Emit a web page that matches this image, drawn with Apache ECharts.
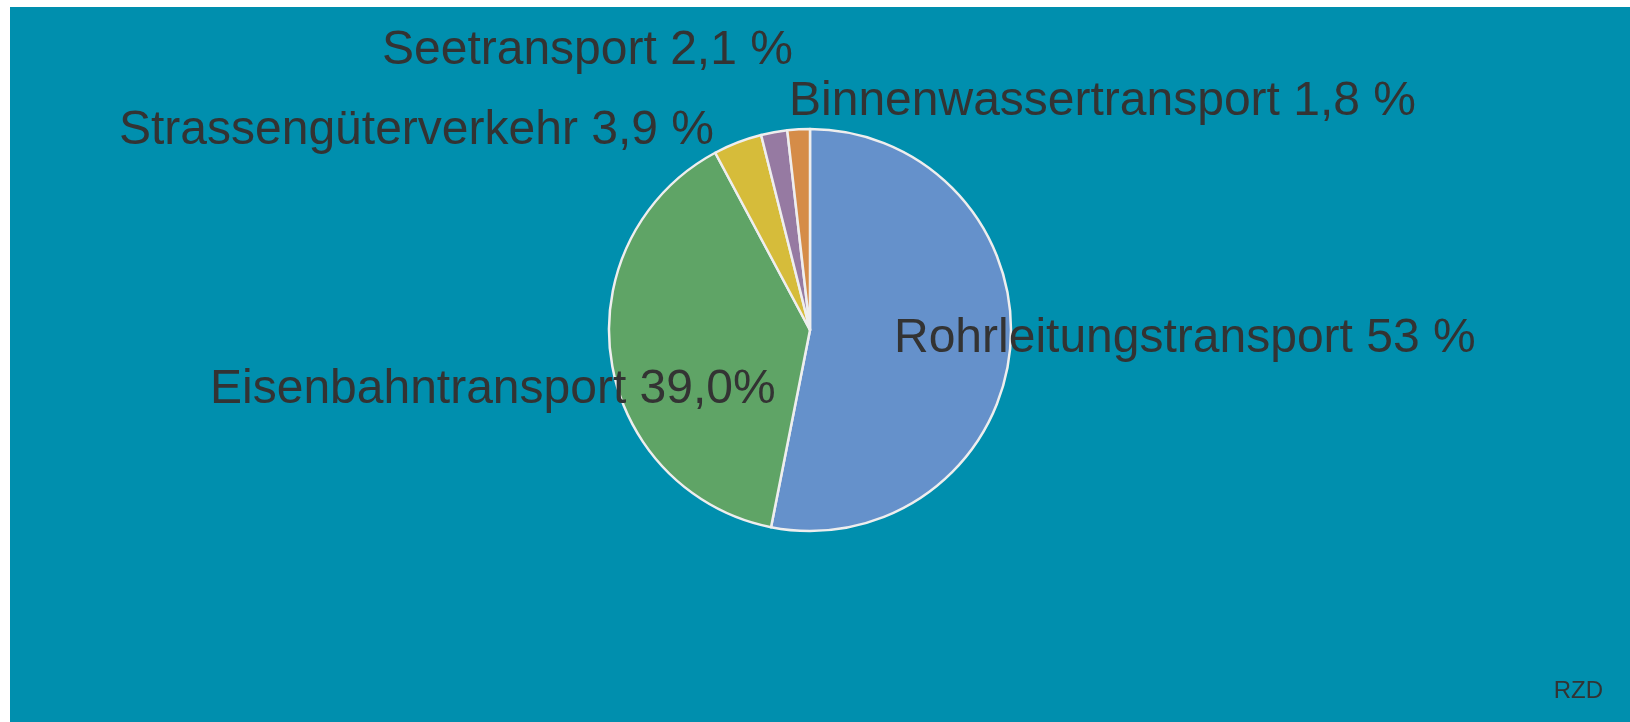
<!DOCTYPE html>
<html>
<head>
<meta charset="utf-8">
<script src="https://cdn.jsdelivr.net/npm/echarts@6/dist/echarts.min.js"></script>
<style>
html,body{margin:0;padding:0;background:#fff;}
#main{position:absolute;left:10px;top:7px;width:1620px;height:715px;}
</style>
</head>
<body>
<div id="main"></div>
<script>
// daten
var categories=['Rohrleitungstransport','Eisenbahntransport','Strassengüterverkehr','Seetransport','Binnenwassertransport']
var values=[53,39.0,3.9,2.1,1.8]
var valueText=['53 %','39,0%','3,9 %','2,1 %','1,8 %']
var colors=['#6591cb','#5fa466','#d6bc3a','#967aa2','#d58c48']
var source='RZD'

// label lage (links, mitte)
var labelPos=[[884,332],[200,383],[109,124],[372,44],[779,95]]

var myChart=echarts.init(document.getElementById('main'))
var pieData=[]
for(var i=0;i<categories.length;i++){
    pieData.push({name:categories[i],value:values[i],itemStyle:{color:colors[i]}})
}
option={
    backgroundColor:'#008fae',
    animation:false,
    graphic:[{
        type:'text',
        right:27,
        top:672,
        style:{text:source,fill:'#333',font:'24px "Liberation Sans", Arial, sans-serif'}
    }],
    series:[{
        type:'pie',
        center:[800,323],
        radius:201,
        startAngle:90,
        clockwise:true,
        avoidLabelOverlap:false,
        emphasis:{disabled:true},
        itemStyle:{borderColor:'#eeeeee',borderWidth:2.5},
        label:{
            show:true,
            position:'outside',
            color:'#333',
            fontSize:48,
            fontFamily:'"Liberation Sans", Arial, sans-serif',
            formatter:function(p){return p.name+' '+valueText[p.dataIndex]}
        },
        labelLine:{show:false},
        labelLayout:function(p){
            var pos=labelPos[p.dataIndex]
            return {x:pos[0],y:pos[1],align:'left',verticalAlign:'middle'}
        },
        data:pieData
    }]
}
myChart.setOption(option)
</script>
</body>
</html>
